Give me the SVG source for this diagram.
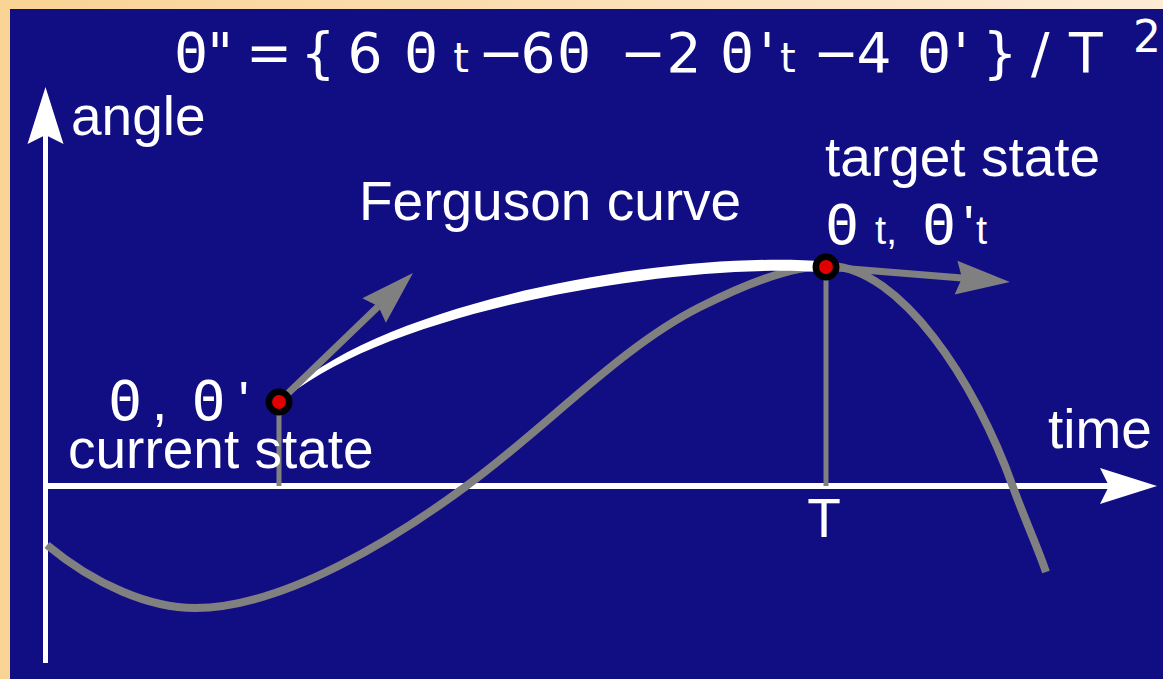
<svg xmlns="http://www.w3.org/2000/svg" width="1163" height="679" viewBox="0 0 1163 679">
<defs>
<linearGradient id="frameGrad" x1="0" y1="0" x2="1" y2="0">
<stop offset="0" stop-color="#F9D394"/>
<stop offset="1" stop-color="#FDEBD6"/>
</linearGradient>
<marker id="whiteHead" markerUnits="userSpaceOnUse" viewBox="0 -18 57 36" markerWidth="57" markerHeight="36" refX="9" refY="0" orient="auto" overflow="visible">
<path d="M0,-18 L57,0 L0,18 L9,0 Z" fill="#FFFFFF"/>
</marker>
<marker id="grayHead" markerUnits="userSpaceOnUse" viewBox="0 -17 54 34" markerWidth="54" markerHeight="34" refX="6" refY="0" orient="auto" overflow="visible">
<path d="M0,-17 L54,0 L0,17 L6,0 Z" fill="#808080"/>
</marker>
</defs>
<style>
.lbl{font-family:"Liberation Sans",Arial,sans-serif;font-size:55px;fill:#FFFFFF}
.f{font-family:"DejaVu Sans","Liberation Sans",sans-serif;font-size:55px;fill:#FFFFFF}
.th{font-family:"DejaVu Sans Mono","Liberation Mono",monospace;font-size:55px}
.sub{font-size:40px}
.axis{stroke:#FFFFFF;fill:none}
.gray{stroke:#808080;fill:none}
.dot{fill:#E00000;stroke:#000000;stroke-width:6.5}
</style>

<g id="frame">
<rect x="0" y="0" width="1163" height="679" fill="url(#frameGrad)"/>
<rect x="10" y="9" width="1153" height="670" fill="#110E84"/>
</g>

<g id="axes">
<line class="axis" x1="45.5" y1="663" x2="45.5" y2="135" stroke-width="5" marker-end="url(#whiteHead)"/>
<line class="axis" x1="43" y1="486" x2="1109" y2="486" stroke-width="6" marker-end="url(#whiteHead)"/>
</g>

<g id="connectors">
<line class="gray" x1="279" y1="402" x2="279" y2="486" stroke-width="5"/>
<line class="gray" x1="826" y1="267" x2="826" y2="486" stroke-width="5"/>
<path id="trajectory" class="gray" stroke-width="8" d="M47,545 C95,585 150,608 195,608 C285,608 400,535 465,487 C545,429 620,347 700,307 C740,287 790,265 830,266 C900,268 975,380 1013,487 C1025,520 1038,548 1046,572"/>
<path id="ferguson" fill="#FFFFFF" d="M279,400 C380,298.5 680,249.5 826,261.5 L826,272.5 C680,260.5 380,311.5 279,404 Z"/>
<line class="gray" x1="279" y1="402" x2="378.4" y2="306.3" stroke-width="7" marker-end="url(#grayHead)"/>
<line class="gray" x1="826" y1="267" x2="962" y2="278.1" stroke-width="7" marker-end="url(#grayHead)"/>
</g>

<g id="current-state">
<circle class="dot" cx="279" cy="402" r="10.2"/>
<text class="lbl" y="420"><tspan class="th" x="108.5">Θ</tspan><tspan x="152">,</tspan><tspan class="th" x="192">Θ</tspan><tspan x="238.5">'</tspan></text>
<text class="lbl" x="68" y="468">current state</text>
</g>

<g id="target-state">
<circle class="dot" cx="826" cy="267" r="10.2"/>
<text class="lbl" x="825" y="176">target state</text>
<text class="lbl" y="244"><tspan class="th" x="825.5">Θ</tspan><tspan class="sub" x="875">t,</tspan><tspan class="th" x="922.5">Θ</tspan><tspan x="963.5">'</tspan><tspan class="sub" x="976">t</tspan></text>
</g>

<g id="labels">
<text class="lbl" x="71" y="135">angle</text>
<text class="lbl" x="359" y="220">Ferguson curve</text>
<text class="lbl" x="1048" y="448">time</text>
<text class="lbl" x="824" y="537" font-size="52" text-anchor="middle">T</text>
</g>

<g id="formula">
<text class="f" y="72"><tspan class="th" x="174.5">Θ</tspan><tspan x="207.4">"</tspan><tspan x="246">=</tspan><tspan x="300.5">{</tspan><tspan x="347.5">6</tspan><tspan class="th" x="404.5">Θ</tspan><tspan class="sub" x="453.2">t</tspan><tspan x="478">−</tspan><tspan x="520.5">6</tspan><tspan class="th" x="557.5">Θ</tspan><tspan x="620">−</tspan><tspan x="666.5">2</tspan><tspan class="th" x="720.5">Θ</tspan><tspan x="759.5">'</tspan><tspan class="sub" x="780">t</tspan><tspan x="813">−</tspan><tspan x="856.5">4</tspan><tspan class="th" x="917.5">Θ</tspan><tspan x="953.5">'</tspan><tspan x="982.5">}</tspan><tspan x="1031">/</tspan><tspan x="1069">T</tspan><tspan x="1133" y="52" font-size="44">2</tspan></text>
</g>
</svg>
